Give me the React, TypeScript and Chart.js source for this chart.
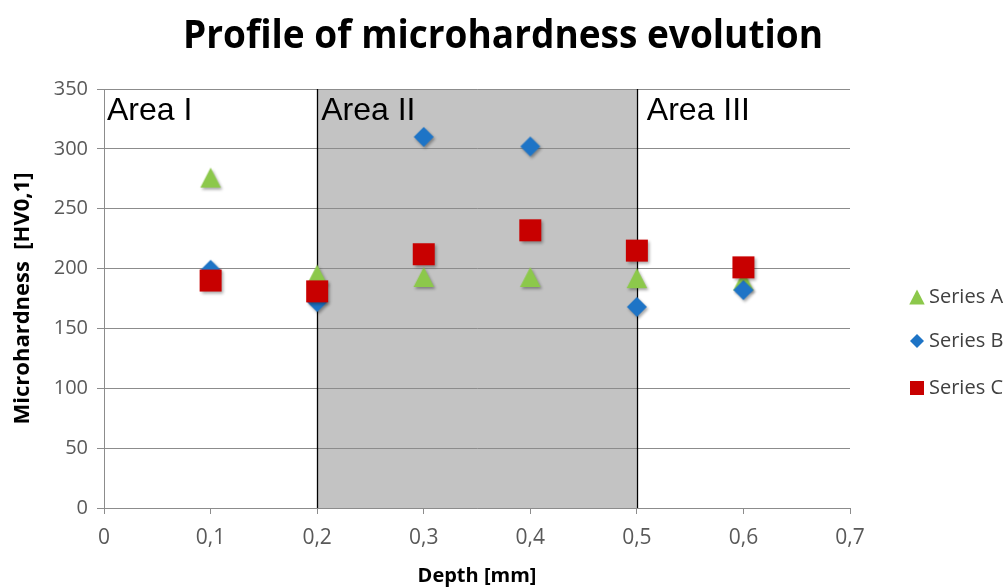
import React, { useEffect, useRef } from "react";
import { Chart, registerables } from "chart.js";

Chart.register(...registerables);

const depths = [0.1, 0.2, 0.3, 0.4, 0.5, 0.6];
const seriesA = [276, 195, 193, 193, 192, 190];
const seriesB = [199, 172, 310, 302, 168, 182];
const seriesC = [190, 181, 212, 232, 215, 201];
const seriesNames = ["Series A", "Series B", "Series C"];
const areaBounds = [0.2, 0.5];
const areaLabels = ["Area I", "Area II", "Area III"];
const areaLabelX = [0, 0.2, 0.5];
const chartTitle = "Profile of microhardness evolution";

const colorA = "#8cc84b";
const colorB = "#1e74c6";
const colorC = "#c80000";

function shapePath(ctx: CanvasRenderingContext2D, style: string, x: number, y: number, s: number) {
  // s = full width/height of the marker's bounding box
  const h = s / 2;
  ctx.beginPath();
  if (style === "triangle") {
    ctx.moveTo(x, y - h);
    ctx.lineTo(x + h * 1.03, y + h);
    ctx.lineTo(x - h * 1.03, y + h);
  } else if (style === "diamond") {
    ctx.moveTo(x, y - h);
    ctx.lineTo(x + h, y);
    ctx.lineTo(x, y + h);
    ctx.lineTo(x - h, y);
  } else {
    ctx.rect(x - h, y - h, s, s);
  }
  ctx.closePath();
}

function makeMarker(style: string, color: string, s: number, shadow: boolean) {
  const pad = 6;
  const size = Math.ceil(s + pad * 2);
  const c = document.createElement("canvas");
  c.width = size;
  c.height = size;
  const ctx = c.getContext("2d") as CanvasRenderingContext2D;
  if (shadow) {
    ctx.shadowColor = "rgba(0,0,0,0.35)";
    ctx.shadowBlur = 3;
    ctx.shadowOffsetX = 1.5;
    ctx.shadowOffsetY = 2;
  }
  ctx.fillStyle = color;
  shapePath(ctx, style, size / 2, size / 2, s);
  ctx.fill();
  return c;
}

const decorPlugin = {
  id: "decor",
  beforeDraw(chart: any) {
    const { ctx, chartArea, scales } = chart;
    const x = scales.x;
    const x1 = x.getPixelForValue(areaBounds[0]);
    const x2 = x.getPixelForValue(areaBounds[1]);
    ctx.save();
    ctx.fillStyle = "#c3c3c3";
    ctx.fillRect(x1, chartArea.top, x2 - x1, chartArea.bottom - chartArea.top);
    ctx.restore();
  },
  beforeDatasetsDraw(chart: any) {
    const { ctx, chartArea, scales } = chart;
    const x = scales.x;
    ctx.save();
    ctx.strokeStyle = "#000000";
    ctx.lineWidth = 1.3;
    areaBounds.forEach((b) => {
      const px = Math.round(x.getPixelForValue(b)) + 0.5;
      ctx.beginPath();
      ctx.moveTo(px, chartArea.top);
      ctx.lineTo(px, chartArea.bottom);
      ctx.stroke();
    });
    ctx.fillStyle = "#000000";
    ctx.font = "32px 'Liberation Sans', Arial, sans-serif";
    ctx.textBaseline = "alphabetic";
    ctx.textAlign = "left";
    const offs = [3, 4, 10];
    areaLabels.forEach((t, i) => {
      const px = x.getPixelForValue(areaLabelX[i]) + offs[i];
      ctx.fillText(t, px, chartArea.top + 31);
    });
    ctx.restore();
  },
  afterDraw(chart: any) {
    const { ctx } = chart;
    ctx.save();
    ctx.fillStyle = "#000000";
    ctx.font = "bold 40px 'Open Sans', sans-serif";
    ctx.textBaseline = "middle";
    ctx.textAlign = "center";
    const w = ctx.measureText(chartTitle).width;
    const sx = 640 / w;
    ctx.translate(503, 37);
    ctx.scale(sx, 1);
    ctx.fillText(chartTitle, 0, 0);
    ctx.restore();

    ctx.save();
    const items = [
      { style: "triangle", color: colorA, s: 15, y: 297 },
      { style: "diamond", color: colorB, s: 14, y: 341 },
      { style: "rect", color: colorC, s: 14, y: 388 },
    ];
    items.forEach((it, i) => {
      ctx.fillStyle = it.color;
      shapePath(ctx, it.style, 917, it.y, it.s);
      ctx.fill();
      ctx.fillStyle = "#404040";
      ctx.font = "20px 'Open Sans', sans-serif";
      ctx.textBaseline = "middle";
      ctx.textAlign = "left";
      ctx.fillText(seriesNames[i], 929, it.y);
    });
    ctx.restore();
  },
};

export default function App() {
  const canvasRef = useRef<HTMLCanvasElement | null>(null);

  useEffect(() => {
    document.body.style.margin = "0";
    const canvas = canvasRef.current;
    if (!canvas) return;
    const mk = (vals: number[]) => depths.map((d, i) => ({ x: d, y: vals[i] }));
    const markerA = makeMarker("triangle", colorA, 20, true);
    const markerB = makeMarker("diamond", colorB, 20, true);
    const markerC = makeMarker("rect", colorC, 22, true);
    const chart = new Chart(canvas, {
      type: "scatter",
      data: {
        datasets: [
          {
            label: seriesNames[0],
            data: mk(seriesA),
            pointStyle: markerA,
            pointRadius: 12,
            backgroundColor: colorA,
            borderColor: colorA,
            order: 3,
          },
          {
            label: seriesNames[1],
            data: mk(seriesB),
            pointStyle: markerB,
            pointRadius: 10,
            backgroundColor: colorB,
            borderColor: colorB,
            order: 2,
          },
          {
            label: seriesNames[2],
            data: mk(seriesC),
            pointStyle: markerC,
            pointRadius: 15,
            backgroundColor: colorC,
            borderColor: colorC,
            order: 1,
          },
        ],
      },
      options: {
        animation: false,
        responsive: true,
        maintainAspectRatio: false,
        layout: { padding: { left: 0, top: 89, right: 156, bottom: 0 } },
        plugins: {
          legend: { display: false },
          tooltip: { enabled: false },
          title: { display: false },
        },
        scales: {
          x: {
            type: "linear",
            min: 0,
            max: 0.7,
            afterFit: (scale: any) => {
              scale.height = 80;
            },
            ticks: {
              stepSize: 0.1,
              color: "#595959",
              padding: 11,
              font: { family: "'Open Sans', sans-serif", size: 21 },
              callback: (v: any) => {
                const n = Number(v);
                return n === 0 ? "0" : n.toFixed(1).replace(".", ",");
              },
            },
            grid: {
              drawOnChartArea: false,
              drawTicks: true,
              tickLength: 6,
              color: "#8c8c8c",
            },
            border: { color: "#8c8c8c", width: 1 },
            title: {
              display: true,
              text: "Depth [mm]",
              color: "#000000",
              font: { family: "'Open Sans', sans-serif", size: 20, weight: "bold", lineHeight: 1.2 },
              padding: { top: 0, bottom: 0 },
            },
          },
          y: {
            min: 0,
            max: 350,
            afterFit: (scale: any) => {
              scale.width = 104;
            },
            ticks: {
              stepSize: 50,
              color: "#595959",
              padding: 9,
              font: { family: "'Open Sans', sans-serif", size: 20 },
            },
            grid: {
              color: "#8c8c8c",
              tickLength: 7,
            },
            border: { color: "#8c8c8c", width: 1 },
            title: {
              display: true,
              text: "Microhardness  [HV0,1]",
              color: "#000000",
              font: { family: "'Open Sans', sans-serif", size: 22, weight: "bold", lineHeight: 1.2 },
              padding: { top: 10, bottom: 0 },
            },
          },
        },
      },
      plugins: [decorPlugin],
    } as any);
    return () => chart.destroy();
  }, []);

  return (
    <div style={{ position: "fixed", left: 0, top: 0, width: 1006, height: 588, background: "#ffffff" }}>
      <canvas ref={canvasRef} />
    </div>
  );
}
